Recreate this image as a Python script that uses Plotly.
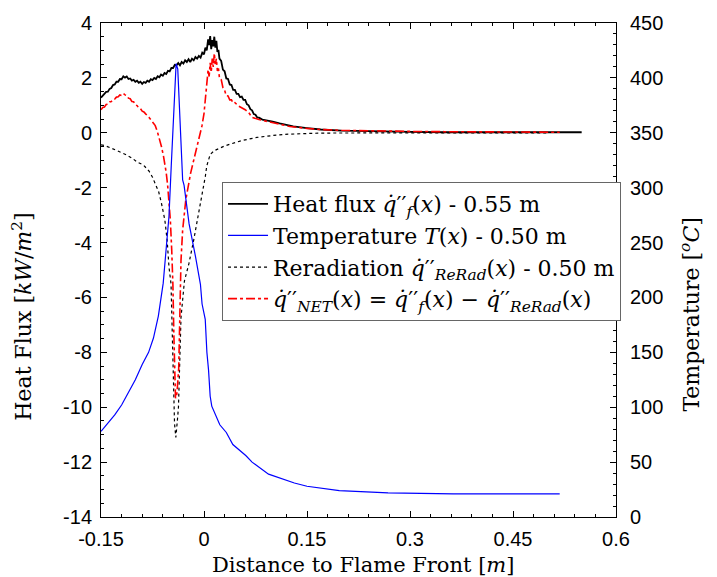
import plotly.graph_objects as go

# ---------------- data ----------------
qf_x = [-0.1500, -0.1475, -0.1450, -0.1425, -0.1400, -0.1375, -0.1350, -0.1325, -0.1300, -0.1275,
        -0.1250, -0.1225, -0.1200, -0.1175, -0.1150, -0.1125, -0.1100, -0.1075, -0.1050, -0.1025,
        -0.1000, -0.0975, -0.0950, -0.0925, -0.0900, -0.0875, -0.0850, -0.0825, -0.0800, -0.0775,
        -0.0750, -0.0725, -0.0700, -0.0675, -0.0650, -0.0625, -0.0600, -0.0575, -0.0550, -0.0525,
        -0.0500, -0.0475, -0.0450, -0.0425, -0.0400, -0.0375, -0.0350, -0.0325, -0.0300, -0.0275,
        -0.0250, -0.0225, -0.0200, -0.0175, -0.0150, -0.0125, -0.0100, -0.0075, -0.0050, -0.0025,
        0.0000, 0.0020, 0.0040, 0.0060, 0.0075, 0.0090, 0.0105, 0.0120, 0.0135, 0.0150,
        0.0165, 0.0180, 0.0195, 0.0210, 0.0225, 0.0250, 0.0275, 0.0300, 0.0325, 0.0350,
        0.0375, 0.0400, 0.0425, 0.0450, 0.0475, 0.0500, 0.0525, 0.0550, 0.0575, 0.0600,
        0.0625, 0.0650, 0.0675, 0.0700, 0.0725, 0.0750, 0.0775, 0.0800, 0.0850, 0.0900,
        0.0950, 0.1000, 0.1100, 0.1200, 0.1300, 0.1500, 0.1700, 0.2000, 0.2500, 0.3000,
        0.3500, 0.4000, 0.4500, 0.5000, 0.5500]
qf_y = [1.28, 1.36, 1.40, 1.49, 1.50, 1.60, 1.63, 1.74, 1.76, 1.86,
        1.86, 1.96, 1.95, 2.06, 2.01, 2.05, 1.96, 1.98, 1.90, 1.93,
        1.86, 1.90, 1.82, 1.86, 1.78, 1.85, 1.82, 1.90, 1.86, 1.95,
        1.92, 2.00, 1.96, 2.06, 2.02, 2.12, 2.08, 2.18, 2.14, 2.26,
        2.24, 2.36, 2.36, 2.48, 2.46, 2.54, 2.46, 2.58, 2.52, 2.64,
        2.58, 2.68, 2.58, 2.70, 2.64, 2.76, 2.70, 2.80, 2.74, 2.92,
        2.86, 3.10, 3.00, 3.40, 3.20, 3.52, 3.05, 3.38, 3.15, 3.50,
        3.10, 3.35, 2.95, 3.02, 2.70, 2.62, 2.30, 2.24, 1.98, 1.96,
        1.76, 1.74, 1.56, 1.56, 1.42, 1.42, 1.30, 1.32, 1.20, 1.20,
        1.04, 1.00, 0.86, 0.82, 0.68, 0.66, 0.56, 0.55, 0.48, 0.46,
        0.42, 0.41, 0.34, 0.29, 0.23, 0.17, 0.12, 0.08, 0.05, 0.03,
        0.02, 0.02, 0.02, 0.02, 0.02]

temp_x = [-0.150, -0.140, -0.130, -0.120, -0.110, -0.100, -0.090, -0.0807, -0.0736, -0.0665,
          -0.0594, -0.0548, -0.0510, -0.0477, -0.0453, -0.0429, -0.0406, -0.0382, -0.0349, -0.0311,
          -0.0290, -0.0217, -0.0123, -0.0052, -0.0028, 0.0018, 0.0042, 0.0066, 0.0090, 0.0113,
          0.0230, 0.0325, 0.0420, 0.0608, 0.0700, 0.0940, 0.1316, 0.1500, 0.1970, 0.2680,
          0.3630, 0.4500, 0.5180]
temp_y = [78, 85, 93, 102, 113, 125, 139, 150, 163, 183,
          213, 243, 274, 320, 350, 390, 413, 408, 359, 307,
          302, 267, 237, 212, 194, 180, 150, 134, 110, 101,
          84, 77, 66, 56, 50, 39, 31, 28, 24, 22,
          21, 21, 21]

rerad_x = [-0.150, -0.144, -0.135, -0.125, -0.115, -0.105, -0.097, -0.088, -0.080, -0.075,
           -0.071, -0.066, -0.062, -0.057, -0.0537, -0.0510, -0.0480, -0.0453, -0.0439, -0.0429,
           -0.0410, -0.0395, -0.0385, -0.0372, -0.0358, -0.0335, -0.0285, -0.0220, -0.0150, -0.0080,
           -0.0010, 0.0020, 0.0040, 0.0090, 0.0150, 0.0300, 0.0540, 0.0770, 0.1000, 0.1240,
           0.1710, 0.2500, 0.3500, 0.5000]
rerad_y = [-0.44, -0.47, -0.56, -0.66, -0.78, -0.92, -1.07, -1.18, -1.40, -1.62,
           -1.83, -2.15, -2.56, -3.18, -3.91, -4.89, -5.51, -7.95, -9.40, -10.6,
           -11.1, -10.8, -10.4, -10.0, -8.57, -6.73, -5.40, -4.77, -3.91, -2.93,
           -2.07, -1.58, -1.21, -0.79, -0.65, -0.48, -0.29, -0.17, -0.10, -0.05,
           -0.01, 0.00, 0.00, 0.00]

net_x = [-0.1500, -0.1475, -0.1450, -0.1425, -0.1400, -0.1375, -0.1350, -0.1325, -0.1300, -0.1275,
         -0.1250, -0.1225, -0.1200, -0.1175, -0.1150, -0.1125, -0.1100, -0.1075, -0.1050, -0.1025,
         -0.1000, -0.0975, -0.0950, -0.0925, -0.0900, -0.0875, -0.0850, -0.0825, -0.0800, -0.0775,
         -0.0750, -0.0730, -0.0710, -0.0680, -0.0650, -0.0620, -0.0590, -0.0570, -0.0550, -0.0530,
         -0.0510, -0.0490, -0.0470, -0.0453, -0.0439, -0.0429, -0.0415, -0.0400, -0.0392, -0.0368,
         -0.0350, -0.0340, -0.0335, -0.0311, -0.0265, -0.0194, -0.0123, -0.0075, -0.0030, 0.0000,
         0.0020, 0.0040, 0.0060, 0.0075, 0.0090, 0.0105, 0.0120, 0.0135, 0.0150, 0.0165,
         0.0180, 0.0195, 0.0210, 0.0225, 0.0250, 0.0275, 0.0300, 0.0325, 0.0350, 0.0375,
         0.0400, 0.0425, 0.0450, 0.0500, 0.0550, 0.0600, 0.0650, 0.0700, 0.0800, 0.0900,
         0.1000, 0.1100, 0.1250, 0.1500, 0.1700, 0.2000, 0.2500, 0.3000, 0.3500, 0.4000,
         0.4500, 0.5180]
net_y = [0.84, 0.92, 0.94, 1.03, 1.04, 1.12, 1.14, 1.22, 1.23, 1.30,
         1.31, 1.38, 1.36, 1.43, 1.38, 1.36, 1.26, 1.24, 1.14, 1.13,
         1.02, 0.99, 0.90, 0.88, 0.79, 0.76, 0.69, 0.64, 0.56, 0.48,
         0.40, 0.33, 0.26, 0.05, -0.20, -0.50, -0.85, -1.10, -1.46, -1.90,
         -2.44, -3.18, -4.28, -5.51, -7.35, -8.57, -9.67, -9.60, -9.43, -8.57,
         -6.73, -5.51, -4.65, -3.55, -2.44, -1.46, -0.72, -0.24, 0.25, 0.70,
         1.30, 1.85, 2.30, 2.05, 2.55, 2.20, 2.70, 2.40, 2.90, 2.50,
         2.70, 2.25, 2.35, 2.00, 1.95, 1.65, 1.55, 1.35, 1.34, 1.20,
         1.20, 1.08, 1.10, 0.98, 0.92, 0.84, 0.74, 0.56, 0.48, 0.42,
         0.36, 0.31, 0.23, 0.16, 0.12, 0.09, 0.06, 0.05, 0.04, 0.03,
         0.03, 0.02]

x_ticks = [-0.15, 0, 0.15, 0.3, 0.45, 0.6]
x_ticklabels = ["-0.15", "0", "0.15", "0.3", "0.45", "0.6"]
y_ticks = [-14, -12, -10, -8, -6, -4, -2, 0, 2, 4]
y_ticklabels = ["-14", "-12", "-10", "-8", "-6", "-4", "-2", "0", "2", "4"]
t_ticks = [0, 50, 100, 150, 200, 250, 300, 350, 400, 450]
t_ticklabels = [str(v) for v in t_ticks]

name_qf = "Heat flux <i>q̇</i>′′<sub><i>f</i></sub>(<i>x</i>) - 0.55 m"
name_t = "Temperature <i>T</i>(<i>x</i>) - 0.50 m"
name_rr = "Reradiation <i>q̇</i>′′<sub><i>ReRad</i></sub>(<i>x</i>) - 0.50 m"
name_net = ("<i>q̇</i>′′<sub><i>NET</i></sub>(<i>x</i>) = <i>q̇</i>′′<sub><i>f</i></sub>(<i>x</i>)"
            " − <i>q̇</i>′′<sub><i>ReRad</i></sub>(<i>x</i>)")

SERIF = "DejaVu Serif"
SANS = "Liberation Sans, Arial, sans-serif"

fig = go.Figure()
fig.add_trace(go.Scatter(x=qf_x, y=qf_y, mode="lines", name=name_qf, legendrank=1,
                         line=dict(color="black", width=1.8)))
fig.add_trace(go.Scatter(x=rerad_x, y=rerad_y, mode="lines", name=name_rr, legendrank=3,
                         line=dict(color="black", width=1.2, dash="dot")))
fig.add_trace(go.Scatter(x=net_x, y=net_y, mode="lines", name=name_net, legendrank=4,
                         line=dict(color="red", width=1.6, dash="dashdot")))
fig.add_trace(go.Scatter(x=temp_x, y=temp_y, mode="lines", name=name_t, legendrank=2,
                         yaxis="y2", line=dict(color="blue", width=1.2)))

axis_common = dict(showgrid=False, zeroline=False, showline=True, linecolor="black", linewidth=1,
                   ticks="inside", ticklen=6, tickwidth=1, tickcolor="black",
                   tickfont=dict(family=SANS, size=20, color="black"))

fig.update_layout(
    width=717, height=577,
    margin=dict(l=101, r=101, t=20, b=60),
    paper_bgcolor="white", plot_bgcolor="white",
    xaxis=dict(range=[-0.15, 0.6], tickmode="array", tickvals=x_ticks, ticktext=x_ticklabels,
               mirror="ticks", ticklabelstandoff=4,
               minor=dict(ticks="inside", ticklen=3, tick0=-0.15, dtick=0.03, tickcolor="black"),
               **axis_common),
    yaxis=dict(range=[-14, 4], tickmode="array", tickvals=y_ticks, ticktext=y_ticklabels,
               ticklabelstandoff=4,
               minor=dict(ticks="inside", ticklen=3, tick0=-14, dtick=0.5, tickcolor="black"),
               **axis_common),
    yaxis2=dict(range=[0, 450], overlaying="y", side="right", tickmode="array",
                tickvals=t_ticks, ticktext=t_ticklabels, ticklabelstandoff=9,
                minor=dict(ticks="inside", ticklen=3, tick0=0, dtick=10, tickcolor="black"),
                **axis_common),
    showlegend=True,
    legend=dict(x=0.235, y=0.678, xanchor="left", yanchor="top",
                bgcolor="white", bordercolor="#666666", borderwidth=1,
                font=dict(family=SERIF, size=22, color="black"),
                itemwidth=40, tracegroupgap=0),
    annotations=[
        dict(text="Heat Flux [<i>kW</i>/<i>m</i><sup>2</sup>]", xref="paper", yref="paper",
             x=-0.153, y=0.406, xanchor="center", yanchor="middle", textangle=-90,
             showarrow=False, font=dict(family=SERIF, size=22, color="black")),
        dict(text="Temperature [<i><sup>o</sup>C</i>]", xref="paper", yref="paper",
             x=1.144, y=0.41, xanchor="center", yanchor="middle", textangle=-90,
             showarrow=False, font=dict(family=SERIF, size=22, color="black")),
        dict(text="Distance to Flame Front [<i>m</i>]", xref="paper", yref="paper",
             x=0.509, y=-0.097, xanchor="center", yanchor="middle",
             showarrow=False, font=dict(family=SERIF, size=21, color="black")),
    ],
)

fig.write_html("out.html")
